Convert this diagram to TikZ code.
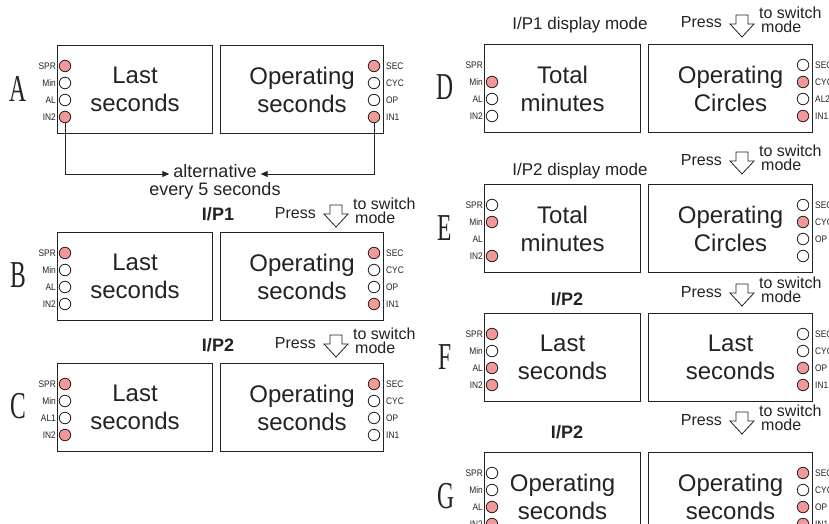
\documentclass[tikz,border=0pt]{standalone}
\usepackage{fontspec}
\setmainfont{Liberation Sans}
\newfontfamily\serifL{Liberation Serif}
\usetikzlibrary{arrows.meta,calc}
\definecolor{ledred}{RGB}{242,152,152}
\definecolor{ink}{RGB}{35,35,35}
\tikzset{
 panelbox/.style={draw=ink, line width=1.1pt, anchor=north west, minimum height=88pt, inner sep=0pt, align=center, font=\fontsize{24}{28}\selectfont, text=ink},
 ledon/.style={circle, draw=ink, line width=0.8pt, fill=ledred, minimum size=11.5pt, inner sep=0pt},
 ledoff/.style={ledon, fill=white},
 ledlab/.style={font=\fontsize{9.5}{9.5}\selectfont, inner sep=0pt, xscale=0.88, text=ink},
 letter/.style={font=\serifL\fontsize{38}{38}\selectfont, xscale=0.62, inner sep=0pt, text=ink},
 headbold/.style={font=\bfseries\fontsize{18}{18}\selectfont, anchor=base, inner sep=0pt, text=ink},
 headtxt/.style={font=\fontsize{17}{17}\selectfont, anchor=base, inner sep=0pt, text=ink},
 presstxt/.style={font=\fontsize{16}{16}\selectfont, inner sep=0pt, text=ink},
 alttxt/.style={font=\fontsize{18}{18}\selectfont, anchor=base, inner sep=0pt, text=ink},
 conn/.style={draw=ink, line width=1pt, -{Triangle[length=7pt,width=6pt]}},
 pics/dnarrow/.style={code={\draw[draw=ink, line width=0.8pt, fill=white] (-6,0) -- (6,0) -- (6,9) -- (12,9) -- (0,22) -- (-12,9) -- (-6,9) -- cycle;}},
}
\newcommand\ledcol[4]{\foreach \i/\s in {#4} {\node[\s] (#1\i) at (#2, #3+4+17*\i) {};}}
\newcommand\labcol[5]{\foreach \t [count=\i] in {#5} {\node[ledlab, anchor=#4] (#1\i) at (#2, #3+4+17*\i) {\t};}}
\newcommand\pressgrp[3]{%
 \node[presstxt, anchor=base east] (#1p) at (#2,#3) {Press};
 \pic at (#2+20, #3-13) {dnarrow};
 \node[presstxt, anchor=base west] (#1s) at (#2+37, #3-9) {to switch};
 \node[presstxt, anchor=base west] (#1m) at (#2+39, #3+5) {mode};
}
\begin{document}
\begin{tikzpicture}[x=1pt,y=-1pt]
\useasboundingbox (0,0) rectangle (829,524);
\fill[white] (0,0) rectangle (829,524);
\clip (0,0) rectangle (829,524);

% ---------------- left column ----------------
% A
\node[letter] (lA) at (18,89) {A};
\node[panelbox, minimum width=155pt] (A-L) at (57,45) {Last\\seconds};
\node[panelbox, minimum width=163pt] (A-R) at (220,45) {Operating\\seconds};
\labcol{A-Lt}{56}{45}{east}{SPR,Min,AL,IN2}
\ledcol{A-Ld}{65}{45}{1/ledon,2/ledoff,3/ledoff,4/ledon}
\labcol{A-Rt}{386}{45}{west}{SEC,CYC,OP,IN1}
\ledcol{A-Rd}{374}{45}{1/ledon,2/ledoff,3/ledoff,4/ledon}
\node[alttxt] (alt) at (215,177) {alternative};
\node[alttxt] (alt2) at (215,195) {every 5 seconds};
\draw[conn] (A-Ld4.south) |- ($(alt.base west)+(-4,-3)$);
\draw[conn] (A-Rd4.south) |- ($(alt.base east)+(4,-3)$);

% B
\node[headbold] (hB) at (218,220) {I/P1};
\pressgrp{B-}{316}{218}
\node[letter] (lB) at (18,275.5) {B};
\node[panelbox, minimum width=155pt] (B-L) at (57,232) {Last\\seconds};
\node[panelbox, minimum width=163pt] (B-R) at (220,232) {Operating\\seconds};
\labcol{B-Lt}{56}{232}{east}{SPR,Min,AL,IN2}
\ledcol{B-Ld}{65}{232}{1/ledon,2/ledoff,3/ledoff,4/ledoff}
\labcol{B-Rt}{386}{232}{west}{SEC,CYC,OP,IN1}
\ledcol{B-Rd}{374}{232}{1/ledon,2/ledoff,3/ledoff,4/ledon}

% C
\node[headbold] (hC) at (218,351) {I/P2};
\pressgrp{C-}{316}{348}
\node[letter] (lC) at (18,406.5) {C};
\node[panelbox, minimum width=155pt] (C-L) at (57,363) {Last\\seconds};
\node[panelbox, minimum width=163pt] (C-R) at (220,363) {Operating\\seconds};
\labcol{C-Lt}{56}{363}{east}{SPR,Min,AL1,IN2}
\ledcol{C-Ld}{65}{363}{1/ledon,2/ledoff,3/ledoff,4/ledon}
\labcol{C-Rt}{386}{363}{west}{SEC,CYC,OP,IN1}
\ledcol{C-Rd}{374}{363}{1/ledon,2/ledoff,3/ledoff,4/ledoff}

% ---------------- right column ----------------
% D
\node[headtxt] (hD) at (580,30) {I/P1 display mode};
\pressgrp{D-}{722}{28}
\node[letter] (lD) at (445,87.5) {D};
\node[panelbox, minimum width=156pt] (D-L) at (484,44) {Total\\minutes};
\node[panelbox, minimum width=164pt] (D-R) at (648,44) {Operating\\Circles};
\labcol{D-Lt}{483}{44}{east}{SPR,Min,AL,IN2}
\ledcol{D-Ld}{492}{44}{2/ledon,3/ledoff,4/ledoff}
\labcol{D-Rt}{815}{44}{west}{SEC,CYC,AL2,IN1}
\ledcol{D-Rd}{803}{44}{1/ledoff,2/ledon,3/ledoff,4/ledon}

% E
\node[headtxt] (hE) at (580,175) {I/P2 display mode};
\pressgrp{E-}{722}{165}
\node[letter] (lE) at (445,228) {E};
\node[panelbox, minimum width=156pt] (E-L) at (484,184) {Total\\minutes};
\node[panelbox, minimum width=164pt] (E-R) at (648,184) {Operating\\Circles};
\labcol{E-Lt}{483}{184}{east}{SPR,Min,AL,IN2}
\ledcol{E-Ld}{492}{184}{1/ledoff,2/ledon,4/ledon}
\labcol{E-Rt}{815}{184}{west}{SEC,CYC,OP}
\ledcol{E-Rd}{803}{184}{1/ledoff,2/ledon,3/ledoff,4/ledoff}

% F
\node[headbold] (hF) at (567,305) {I/P2};
\pressgrp{F-}{722}{297}
\node[letter] (lF) at (445,357) {F};
\node[panelbox, minimum width=156pt] (F-L) at (484,313) {Last\\seconds};
\node[panelbox, minimum width=164pt] (F-R) at (648,313) {Last\\seconds};
\labcol{F-Lt}{483}{313}{east}{SPR,Min,AL,IN2}
\ledcol{F-Ld}{492}{313}{1/ledon,2/ledoff,3/ledon,4/ledon}
\labcol{F-Rt}{815}{313}{west}{SEC,CYC,OP,IN1}
\ledcol{F-Rd}{803}{313}{1/ledoff,2/ledoff,3/ledon,4/ledon}

% G
\pressgrp{G-}{722}{425}
\node[headbold] (hG) at (567,438) {I/P2};
\node[letter] (lG) at (446,496) {G};
\node[panelbox, minimum width=156pt] (G-L) at (484,452) {Operating\\seconds};
\node[panelbox, minimum width=164pt] (G-R) at (648,452) {Operating\\seconds};
\labcol{G-Lt}{483}{452}{east}{SPR,Min,AL,IN2}
\ledcol{G-Ld}{492}{452}{1/ledoff,2/ledoff,3/ledon,4/ledon}
\labcol{G-Rt}{815}{452}{west}{SEC,CYC,OP,IN1}
\ledcol{G-Rd}{803}{452}{1/ledon,2/ledoff,3/ledon,4/ledon}
\end{tikzpicture}
\end{document}
